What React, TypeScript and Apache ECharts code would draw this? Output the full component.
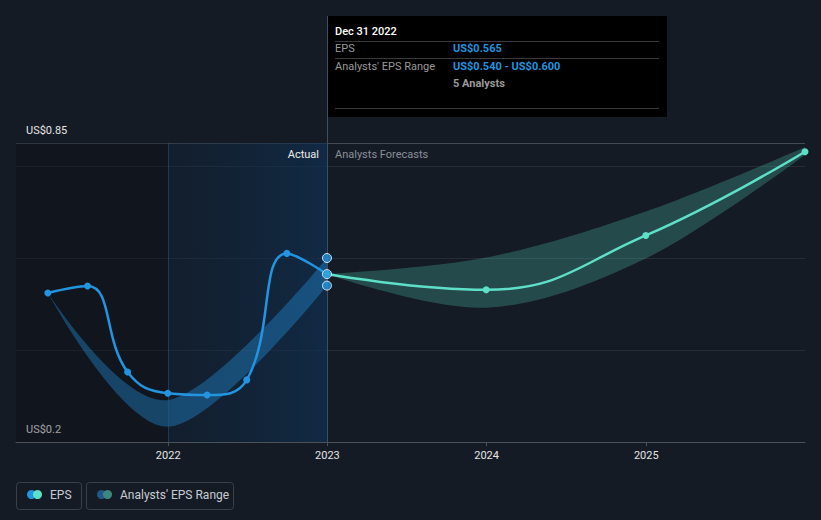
import React, { useEffect, useRef } from "react";
import * as echarts from "echarts";

const actualDates = ["2021-03-31", "2021-06-30", "2021-09-30", "2021-12-31", "2022-03-31", "2022-06-30", "2022-09-30", "2022-12-31"];
const epsActual = [0.524, 0.539, 0.352, 0.306, 0.302, 0.335, 0.61, 0.565];
const actualRangeDates = ["2021-03-31", "2021-12-31", "2022-12-31"];
const actualRangeLow = [0.524, 0.233, 0.54];
const actualRangeHigh = [0.524, 0.291, 0.6];
const forecastDates = ["2022-12-31", "2023-12-31", "2024-12-31", "2025-12-31"];
const epsForecast = [0.565, 0.531, 0.649, 0.831];
const forecastLow = [0.565, 0.492, 0.599, 0.824];
const forecastHigh = [0.565, 0.601, 0.701, 0.841];
const yearTicks = ["2022-01-01", "2023-01-01", "2024-01-01", "2025-01-01"];
const yLabelValues = [0.2, 0.85];
const axisStart = "2021-01-17";
const axisEnd = "2025-12-31";
const tooltipDate = "Dec 31 2022";
const tooltipEps = "US$0.565";
const tooltipRange = "US$0.540 - US$0.600";
const tooltipAnalysts = "5 Analysts";

const t = (s: string) => Date.UTC(+s.slice(0, 4), +s.slice(5, 7) - 1, +s.slice(8, 10));
const FONT = "Roboto";
const BLUE = "#2394df";
const TEAL = "#5ee0c8";

// cardinal (tension 0) smoothing of pixel points, sampled into a polyline
function cardinalPoints(pts: number[][]): number[][] {
  const n = pts.length;
  if (n < 2) return pts.slice();
  const k = 1 / 6;
  const out: number[][] = [pts[0]];
  for (let i = 0; i < n - 1; i++) {
    const p0 = pts[i];
    const p1 = pts[i + 1];
    const pm = i > 0 ? pts[i - 1] : null;
    const pn = i + 2 < n ? pts[i + 2] : null;
    const c1 = pm ? [p0[0] + k * (p1[0] - pm[0]), p0[1] + k * (p1[1] - pm[1])] : p0;
    const c2 = pn ? [p1[0] - k * (pn[0] - p0[0]), p1[1] - k * (pn[1] - p0[1])] : p1;
    const steps = 24;
    for (let s = 1; s <= steps; s++) {
      const u = s / steps;
      const a = (1 - u) ** 3, b = 3 * (1 - u) ** 2 * u, c = 3 * (1 - u) * u * u, d = u ** 3;
      out.push([a * p0[0] + b * c1[0] + c * c2[0] + d * p1[0], a * p0[1] + b * c1[1] + c * c2[1] + d * p1[1]]);
    }
  }
  return out;
}

function bandSeries(dates: string[], low: number[], high: number[], color: string) {
  return {
    type: "custom",
    silent: true,
    z: 3,
    data: dates.map((d, i) => [t(d), low[i], high[i]]),
    encode: { x: 0, y: [1, 2] },
    renderItem: (params: any, api: any) => {
      if (params.dataIndex !== 0) return null;
      const up = dates.map((d, i) => api.coord([t(d), high[i]]));
      const lo = dates.map((d, i) => api.coord([t(d), low[i]])).reverse();
      const points = cardinalPoints(up).concat(cardinalPoints(lo));
      return { type: "polygon", shape: { points }, style: { fill: color } };
    },
  };
}

export default function App() {
  const ref = useRef<HTMLDivElement>(null);
  useEffect(() => {
    const chart = echarts.init(ref.current!, undefined, { renderer: "svg" });
    const pairs = (d: string[], v: number[]) => d.map((x, i) => [t(x), v[i]]);
    const last = actualDates.length - 1;
    const option: any = {
      animation: false,
      backgroundColor: "#151b25",
      grid: { left: 16, right: 16, top: 143, bottom: 78 },
      xAxis: {
        type: "value",
        min: t(axisStart),
        max: t(axisEnd),
        axisLine: { show: true, lineStyle: { color: "#4b5059", width: 1 } },
        axisTick: { show: true, length: 4, lineStyle: { color: "#4b5059" }, customValues: yearTicks.map(t) },
        axisLabel: {
          customValues: yearTicks.map(t),
          formatter: (v: number) => String(new Date(v).getUTCFullYear()),
          color: "#e6e6e6",
          fontFamily: FONT,
          fontSize: 11,
          margin: 8,
        },
        splitLine: { show: false },
      },
      yAxis: {
        type: "value",
        min: 0.2,
        max: 0.85,
        interval: 0.2,
        axisLine: { show: false },
        axisTick: { show: false },
        axisLabel: {
          inside: true,
          margin: 10,
          verticalAlign: "bottom",
          padding: [0, 0, 7, 0],
          color: "#e6e6e6",
          fontFamily: FONT,
          fontSize: 11,
          formatter: (v: number) => (yLabelValues.some((x) => Math.abs(x - v) < 1e-6) ? "US$" + v : ""),
        },
        splitLine: { show: true, lineStyle: { color: ["#262c36", "#262c36", "#262c36", "#262c36", "#454a52"], width: 1 } },
      },
      series: [
        {
          type: "line",
          name: "regions",
          data: [],
          silent: true,
          z: 1,
          markArea: {
            silent: true,
            data: [
              [
                { xAxis: t(axisStart), itemStyle: { color: "rgba(8,10,14,0.32)" } },
                { xAxis: t(yearTicks[0]) },
              ],
              [
                {
                  xAxis: t(yearTicks[0]),
                  itemStyle: {
                    color: new echarts.graphic.LinearGradient(0, 0, 1, 0, [
                      { offset: 0, color: "rgba(14,36,60,0.35)" },
                      { offset: 1, color: "rgba(16,48,82,0.7)" },
                    ]),
                  },
                },
                { xAxis: t(actualDates[last]) },
              ],
            ],
          },
          markLine: {
            silent: true,
            symbol: "none",
            label: { show: false },
            lineStyle: { color: "rgba(40,90,130,0.5)", type: "solid", width: 1 },
            data: [{ xAxis: t(yearTicks[0]) }],
          },
        },
        bandSeries(actualRangeDates, actualRangeLow, actualRangeHigh, "rgba(35,148,223,0.38)"),
        bandSeries(forecastDates, forecastLow, forecastHigh, "rgba(94,224,200,0.24)"),
        {
          type: "line",
          name: "EPS",
          data: pairs(actualDates, epsActual),
          smooth: 0.45,
          symbol: "circle",
          symbolSize: 7,
          showAllSymbol: true,
          clip: false,
          lineStyle: { color: BLUE, width: 2.5 },
          itemStyle: { color: BLUE },
          z: 5,
        },
        {
          type: "line",
          name: "Forecast",
          data: pairs(forecastDates, epsForecast),
          smooth: 0.45,
          symbol: "circle",
          symbolSize: 7,
          showAllSymbol: true,
          clip: false,
          lineStyle: { color: TEAL, width: 2.5 },
          itemStyle: { color: TEAL },
          z: 5,
        },
        {
          type: "scatter",
          data: [
            [t(actualDates[last]), actualRangeHigh[actualRangeHigh.length - 1]],
            [t(actualDates[last]), epsActual[last]],
            [t(actualDates[last]), actualRangeLow[actualRangeLow.length - 1]],
          ],
          symbolSize: 9,
          itemStyle: { color: BLUE, borderColor: "#ffffff", borderWidth: 1 },
          z: 10,
        },
      ],
    };
    chart.setOption(option);

    const px = chart.convertToPixel({ xAxisIndex: 0 }, t(actualDates[last])) as number;
    const py = chart.convertToPixel({ yAxisIndex: 0 }, 0.85) as number;
    const axisY = chart.convertToPixel({ yAxisIndex: 0 }, 0.2) as number;
    const tipX = Math.round(px);
    const textCommon = { fontFamily: FONT, fontSize: 11 };
    const graphic: any[] = [
      {
        type: "line",
        shape: { x1: tipX + 0.5, y1: 16, x2: tipX + 0.5, y2: axisY },
        style: { stroke: "#3d4e60", lineWidth: 1 },
        z: 1,
        silent: true,
      },
      {
        type: "text",
        x: tipX - 8,
        y: py + 11,
        z: 50,
        style: { text: "Actual", fill: "#eeeeee", align: "right", verticalAlign: "middle", ...textCommon },
      },
      {
        type: "text",
        x: tipX + 8,
        y: py + 11,
        z: 50,
        style: { text: "Analysts Forecasts", fill: "#8b9098", align: "left", verticalAlign: "middle", ...textCommon },
      },
      {
        type: "group",
        x: tipX,
        y: 16,
        z: 100,
        children: [
          { type: "rect", shape: { x: 0, y: 0, width: 340, height: 101 }, style: { fill: "#000000" } },
          { type: "text", x: 8, y: 15, style: { text: tooltipDate, fill: "#ffffff", fontFamily: FONT, fontSize: 11, fontWeight: 500, verticalAlign: "middle" } },
          { type: "line", shape: { x1: 8, y1: 25.5, x2: 332, y2: 25.5 }, style: { stroke: "#3a3a3a", lineWidth: 1 } },
          { type: "text", x: 8, y: 32, style: { text: "EPS", fill: "#9a9a9a", verticalAlign: "middle", ...textCommon } },
          { type: "text", x: 126, y: 32, style: { text: tooltipEps, fill: BLUE, fontWeight: "bold", verticalAlign: "middle", ...textCommon } },
          { type: "line", shape: { x1: 8, y1: 42.5, x2: 332, y2: 42.5 }, style: { stroke: "#3a3a3a", lineWidth: 1 } },
          { type: "text", x: 8, y: 50, style: { text: "Analysts' EPS Range", fill: "#9a9a9a", verticalAlign: "middle", ...textCommon } },
          { type: "text", x: 126, y: 50, style: { text: tooltipRange, fill: BLUE, fontWeight: "bold", verticalAlign: "middle", ...textCommon } },
          { type: "text", x: 126, y: 67, style: { text: tooltipAnalysts, fill: "#9a9a9a", fontWeight: "bold", verticalAlign: "middle", ...textCommon } },
          { type: "line", shape: { x1: 8, y1: 92.5, x2: 332, y2: 92.5 }, style: { stroke: "#3a3a3a", lineWidth: 1 } },
        ],
      },
      {
        type: "group",
        x: 16,
        y: 482,
        children: [
          { type: "rect", shape: { x: 0.5, y: 0.5, width: 65, height: 27, r: 3 }, style: { fill: "none", stroke: "#3a3f48", lineWidth: 1 } },
          { type: "circle", shape: { cx: 15.5, cy: 12.5, r: 4.5 }, style: { fill: BLUE } },
          { type: "circle", shape: { cx: 21.5, cy: 12.5, r: 4.5 }, style: { fill: TEAL } },
          { type: "text", x: 34, y: 13, style: { text: "EPS", fill: "#c9cdd3", fontFamily: FONT, fontSize: 12, verticalAlign: "middle" } },
          { type: "rect", shape: { x: 70.5, y: 0.5, width: 147, height: 27, r: 3 }, style: { fill: "none", stroke: "#3a3f48", lineWidth: 1 } },
          { type: "circle", shape: { cx: 85.5, cy: 12.5, r: 4.5 }, style: { fill: "#1f5886" } },
          { type: "circle", shape: { cx: 91.5, cy: 12.5, r: 4.5 }, style: { fill: "#3d8780" } },
          { type: "text", x: 104, y: 13, style: { text: "Analysts' EPS Range", fill: "#c9cdd3", fontFamily: FONT, fontSize: 12, verticalAlign: "middle" } },
        ],
      },
    ];
    chart.setOption({ graphic });
    return () => chart.dispose();
  }, []);
  return <div ref={ref} style={{ width: 821, height: 520, position: "absolute", left: 0, top: 0 }} />;
}
